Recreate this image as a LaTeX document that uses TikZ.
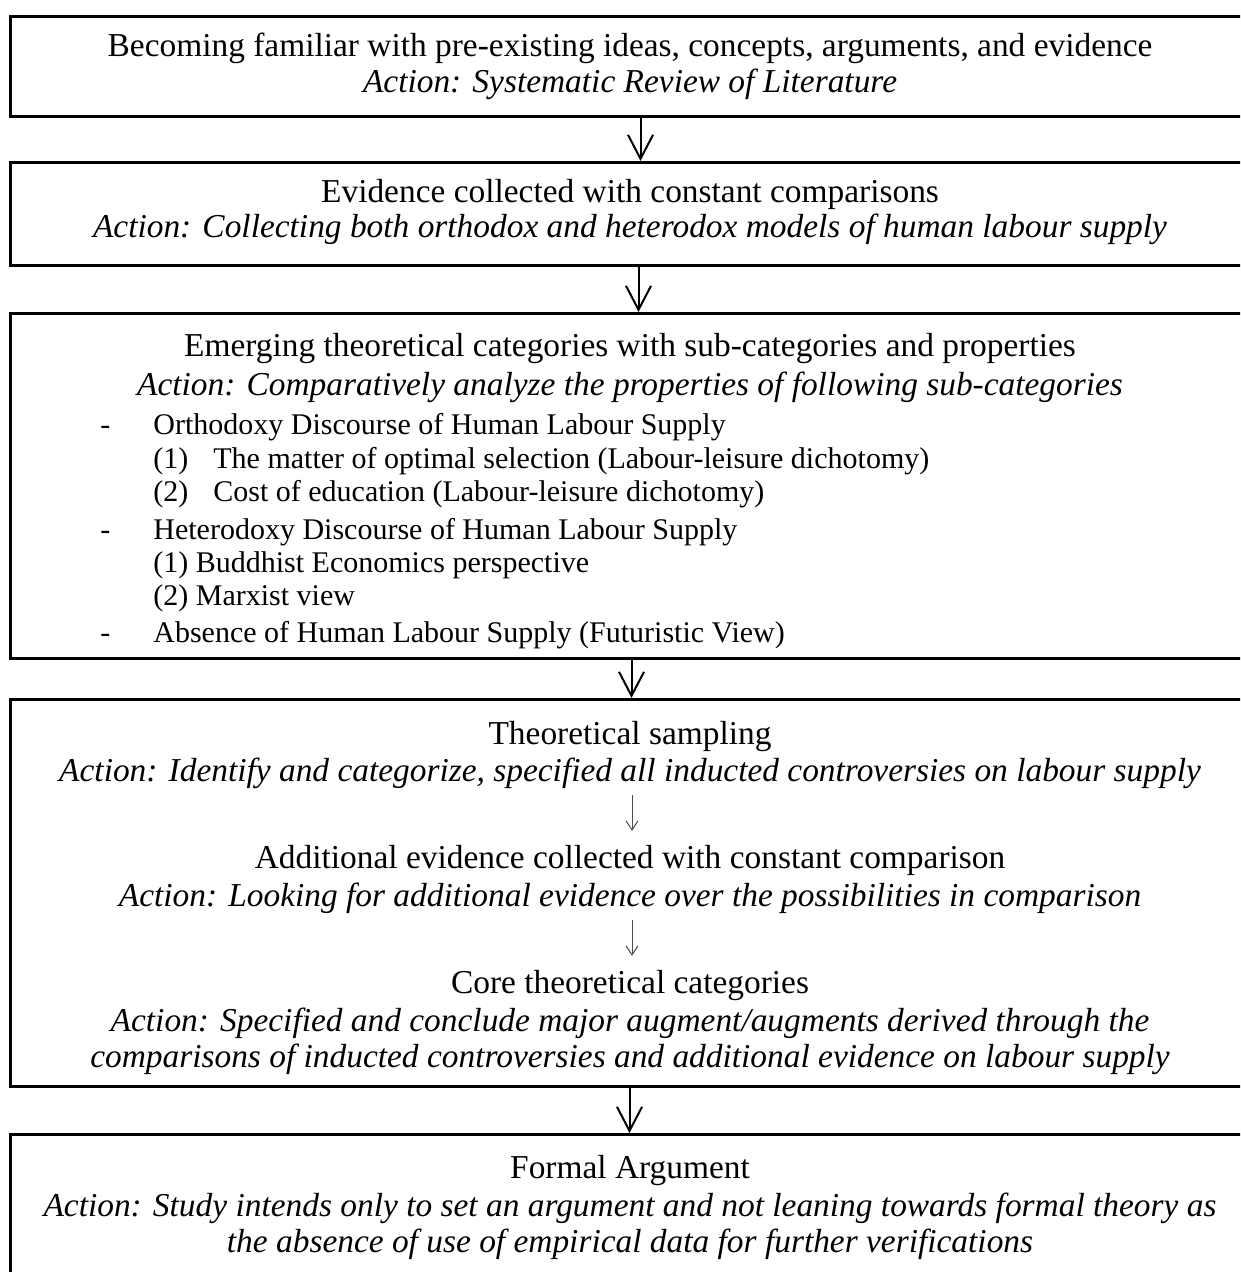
\documentclass[tikz,border=0pt]{standalone}
\usepackage{fontspec}
\setmainfont{Liberation Serif}
\usetikzlibrary{arrows.meta,positioning}

\tikzset{
  stage/.style={draw, line width=1.5pt, anchor=north west, minimum width=625pt, inner sep=0pt},
  headline/.style={anchor=base, font=\fontsize{16.7}{18}\selectfont},
  actline/.style={anchor=base, font=\fontsize{16.7}{18}\selectfont\itshape},
  listline/.style={anchor=base west, inner sep=0pt, font=\fontsize{15}{17}\selectfont},
  flow/.style={line width=1pt, -{Straight Barb[length=12pt,width=12.5pt,line width=1pt]}},
  subflow/.style={line width=0.5pt, black!70, shorten >=3.5pt, -{Straight Barb[length=4.5pt,width=6pt]}}
}

\begin{document}
\begin{tikzpicture}[x=0.5pt, y=-0.5pt]
\useasboundingbox (0,0) rectangle (1240,1272);
\clip (0,0) rectangle (1240,1272);

% stage boxes (right side and last bottom run off the page)
\node[stage, minimum height=50pt] (b1) at (9,15) {};
\node[stage, minimum height=51.5pt] (b2) at (9,161) {};
\node[stage, minimum height=172.5pt] (b3) at (9,312) {};
\node[stage, minimum height=193.5pt] (b4) at (9,698) {};
\node[stage, minimum height=90pt] (b5) at (9,1133) {};

% box 1
\node[headline] (t1a) at (630,57) {Becoming familiar with pre-existing ideas, concepts, arguments, and evidence};
\node[actline] (t1b) at (630,93) {Action: Systematic Review of Literature};

% box 2
\node[headline] (t2a) at (630,203) {Evidence collected with constant comparisons};
\node[actline] (t2b) at (630,238) {Action: Collecting both orthodox and heterodox models of human labour supply};

% box 3
\node[headline] (t3a) at (630,357) {Emerging theoretical categories with sub-categories and properties};
\node[actline] (t3b) at (630,395) {Action: Comparatively analyze the properties of following sub-categories};
\foreach \y/\txt [count=\i] in {435/Orthodoxy Discourse of Human Labour Supply,
    539/Heterodoxy Discourse of Human Labour Supply,
    642/Absence of Human Labour Supply (Futuristic View)} {
  \node[listline] (dash\i) at (100,\y) {-};
  \node[listline] (sub\i) at (153,\y) {\txt};
}
\node[listline] (n1) at (153,468) {(1)};
\node[listline] (o1) at (213,468) {The matter of optimal selection (Labour-leisure dichotomy)};
\node[listline] (n2) at (153,501) {(2)};
\node[listline] (o2) at (213,501) {Cost of education (Labour-leisure dichotomy)};
\node[listline] (h1) at (153,572) {(1) Buddhist Economics perspective};
\node[listline] (h2) at (153,605) {(2) Marxist view};

% box 4
\node[headline] (t4a) at (630,744) {Theoretical sampling};
\node[actline] (t4b) at (630,781) {Action: Identify and categorize, specified all inducted controversies on labour supply};
\node[headline] (t4c) at (630,868) {Additional evidence collected with constant comparison};
\node[actline] (t4d) at (630,906) {Action: Looking for additional evidence over the possibilities in comparison};
\node[headline] (t4e) at (630,993) {Core theoretical categories};
\node[actline] (t4f) at (630,1031) {Action: Specified and conclude major augment/augments derived through the};
\node[actline] (t4g) at (630,1067) {comparisons of inducted controversies and additional evidence on labour supply};

% box 5
\node[headline] (t5a) at (630,1178) {Formal Argument};
\node[actline] (t5b) at (630,1216) {Action: Study intends only to set an argument and not leaning towards formal theory as};
\node[actline] (t5c) at (630,1252) {the absence of use of empirical data for further verifications};

% connectors
\draw[flow] ([xshift=2.5pt]b1.south) -- ([xshift=2.5pt]b2.north);
\draw[flow] ([xshift=1.5pt]b2.south) -- ([xshift=1.5pt]b3.north);
\draw[flow] ([xshift=-2pt]b3.south) -- ([xshift=-2pt]b4.north);
\draw[flow] ([xshift=-3pt]b4.south) -- ([xshift=-3pt]b5.north);
\draw[subflow] ([xshift=1pt]t4b.south) -- ([xshift=1pt]t4c.north);
\draw[subflow] ([xshift=1pt]t4d.south) -- ([xshift=1pt]t4e.north);
\end{tikzpicture}
\end{document}
